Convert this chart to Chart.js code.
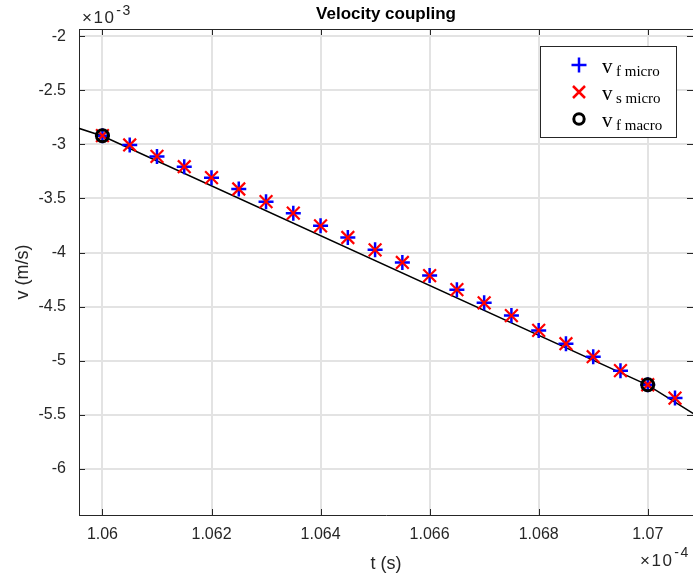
<!DOCTYPE html>
<html>
<head>
<meta charset="utf-8">
<script src="https://cdn.jsdelivr.net/npm/chart.js@4.4.1/dist/chart.umd.min.js"></script>
<style>
html,body{margin:0;padding:0;background:#fff;overflow:hidden}
#wrap{width:693px;height:574px;position:relative}
</style>
</head>
<body>
<div id="wrap"><canvas id="c" width="693" height="574"></canvas></div>
<script>
// ---- data (t in units of 1e-4 s, v in units of 1e-3 m/s) ----
const microTime = [1.0600,1.0605,1.0610,1.0615,1.0620,1.0625,1.0630,1.0635,1.0640,1.0645,1.0650,
                   1.0655,1.0660,1.0665,1.0670,1.0675,1.0680,1.0685,1.0690,1.0695,1.0700,1.0705];
const vfMicro = [-2.920,-3.006,-3.112,-3.207,-3.308,-3.413,-3.530,-3.636,-3.753,-3.861,-3.975,
                 -4.092,-4.213,-4.343,-4.465,-4.583,-4.720,-4.843,-4.963,-5.092,-5.222,-5.345];
const vsMicro = [-2.920,-3.006,-3.112,-3.207,-3.308,-3.413,-3.530,-3.636,-3.753,-3.861,-3.975,
                 -4.092,-4.213,-4.343,-4.465,-4.583,-4.720,-4.843,-4.963,-5.092,-5.222,-5.345];
const macroTime = [1.06, 1.07];
const vfMacro = [-2.920, -5.222];
const lineTime = [1.05, 1.06, 1.07, 1.08];
const lineVelocity = [-1.29, -2.923, -5.225, -8.385];

const xTickValues = [1.060, 1.062, 1.064, 1.066, 1.068, 1.070];
const yTickValues = [-6, -5.5, -5, -4.5, -4, -3.5, -3, -2.5, -2];
const xLimits = [1.05957, 1.07083];
const yLimits = [-6.426, -1.934];
const xExponent = '-4';
const yExponent = '-3';
const titleText = 'Velocity coupling';
const xTitleText = 't (s)';
const yTitleText = 'v (m/s)';
const legendMain = ['v', 'v', 'v'];
const legendSub = ['f micro', 's micro', 'f macro'];

// ---- styling ----
const SANS = '"Liberation Sans", Arial, Helvetica, sans-serif';
const SERIF = '"Liberation Serif", "Times New Roman", serif';
const AXIS_COLOR = '#262626';
const GRID_COLOR = '#e3e3e3';
const BLUE = '#0000ff', RED = '#ff0000', BLACK = '#000000';

function pts(xs, ys) { return xs.map((x, i) => ({ x: x, y: ys[i] })); }

const decor = {
  id: 'decor',
  afterDraw(chart) {
    const ctx = chart.ctx;
    const a = chart.chartArea;
    const xs = chart.scales.x, ys = chart.scales.y;
    ctx.save();
    // top border
    ctx.strokeStyle = AXIS_COLOR;
    ctx.lineWidth = 1;
    ctx.beginPath();
    ctx.moveTo(a.left, Math.round(a.top) + 0.5);
    ctx.lineTo(a.right, Math.round(a.top) + 0.5);
    ctx.stroke();
    // inward ticks
    const TL = 6;
    ctx.beginPath();
    xTickValues.forEach(v => {
      const px = Math.round(xs.getPixelForValue(v)) + 0.5;
      ctx.moveTo(px, a.bottom); ctx.lineTo(px, a.bottom - TL);
      ctx.moveTo(px, a.top); ctx.lineTo(px, a.top + TL);
    });
    yTickValues.forEach(v => {
      const py = Math.round(ys.getPixelForValue(v)) + 0.5;
      ctx.moveTo(a.left, py); ctx.lineTo(a.left + TL, py);
      ctx.moveTo(a.right, py); ctx.lineTo(a.right - TL, py);
    });
    ctx.stroke();

    // title
    ctx.fillStyle = '#000';
    ctx.font = 'bold 17px ' + SANS;
    ctx.textAlign = 'center';
    ctx.textBaseline = 'alphabetic';
    ctx.fillText(titleText, (a.left + a.right) / 2, 19);

    // axis titles
    ctx.fillStyle = AXIS_COLOR;
    ctx.font = '18px ' + SANS;
    ctx.fillText(xTitleText, (a.left + a.right) / 2, 569);
    ctx.save();
    ctx.translate(28, (a.top + a.bottom) / 2);
    ctx.rotate(-Math.PI / 2);
    ctx.fillText(yTitleText, 0, 0);
    ctx.restore();

    // exponents
    ctx.textAlign = 'left';
    ctx.save();
    if ('letterSpacing' in ctx) ctx.letterSpacing = '1.5px';
    ctx.font = '17px ' + SANS;
    ctx.fillText('\u00d710', 82, 23);
    let w = ctx.measureText('\u00d710').width;
    ctx.font = '14px ' + SANS;
    ctx.fillText(yExponent, 82 + w + 1, 15);
    ctx.font = '17px ' + SANS;
    ctx.fillText('\u00d710', 640, 566);
    w = ctx.measureText('\u00d710').width;
    ctx.font = '14px ' + SANS;
    ctx.fillText(xExponent, 640 + w + 1, 557);
    ctx.restore();

    // legend
    const L = 540.5, T = 46.5, R = 676.5, B = 137.5;
    ctx.fillStyle = '#fff';
    ctx.fillRect(L, T, R - L, B - T);
    ctx.strokeStyle = AXIS_COLOR;
    ctx.lineWidth = 1;
    ctx.strokeRect(L, T, R - L, B - T);
    const rows = [65, 92, 119];
    const mx = 579;
    // plus
    ctx.strokeStyle = BLUE; ctx.lineWidth = 2.5;
    ctx.beginPath();
    ctx.moveTo(mx - 7.5, rows[0]); ctx.lineTo(mx + 7.5, rows[0]);
    ctx.moveTo(mx, rows[0] - 7.5); ctx.lineTo(mx, rows[0] + 7.5);
    ctx.stroke();
    // cross
    ctx.strokeStyle = RED;
    ctx.beginPath();
    ctx.moveTo(mx - 6, rows[1] - 6); ctx.lineTo(mx + 6, rows[1] + 6);
    ctx.moveTo(mx + 6, rows[1] - 6); ctx.lineTo(mx - 6, rows[1] + 6);
    ctx.stroke();
    // circle
    ctx.strokeStyle = BLACK; ctx.lineWidth = 3;
    ctx.beginPath();
    ctx.arc(mx, rows[2], 5.2, 0, Math.PI * 2);
    ctx.stroke();
    // texts
    ctx.fillStyle = '#000';
    for (let i = 0; i < 3; i++) {
      ctx.font = '21px ' + SERIF;
      ctx.fillText(legendMain[i], 602, rows[i] + 8);
      ctx.font = '15px ' + SERIF;
      ctx.fillText(legendSub[i], 616, rows[i] + 11);
    }
    ctx.restore();
  }
};

const ctx = document.getElementById('c').getContext('2d');
new Chart(ctx, {
  type: 'scatter',
  data: {
    datasets: [
      { label: 'vf macro', data: pts(macroTime, vfMacro), order: 1,
        pointStyle: 'circle', pointRadius: 6, pointBorderWidth: 3,
        pointBorderColor: BLACK, pointBackgroundColor: 'rgba(0,0,0,0)', showLine: false },
      { label: 'vs micro', data: pts(microTime, vsMicro), order: 2,
        pointStyle: 'crossRot', pointRadius: 9, pointBorderWidth: 2.2,
        pointBorderColor: RED, pointBackgroundColor: RED, showLine: false },
      { label: 'vf micro', data: pts(microTime, vfMicro), order: 3,
        pointStyle: 'cross', pointRadius: 7.5, pointBorderWidth: 2.5,
        pointBorderColor: BLUE, pointBackgroundColor: BLUE, showLine: false },
      { label: 'macro line', data: pts(lineTime, lineVelocity), order: 4,
        showLine: true, borderColor: BLACK, borderWidth: 1.5, pointRadius: 0,
        fill: false, tension: 0, clip: 0 }
    ]
  },
  options: {
    responsive: false,
    animation: false,
    devicePixelRatio: 1,
    events: [],
    layout: { autoPadding: false, padding: { top: 29, left: 0, right: 0, bottom: 0 } },
    plugins: { legend: { display: false }, title: { display: false }, tooltip: { enabled: false } },
    scales: {
      x: {
        type: 'linear', position: 'bottom',
        min: xLimits[0], max: xLimits[1],
        afterBuildTicks: s => { s.ticks = xTickValues.map(v => ({ value: v })); },
        afterFit: s => { s.height = 59; s.paddingLeft = 0; s.paddingRight = 0; },
        grid: { color: GRID_COLOR, lineWidth: 2, drawTicks: false },
        border: { display: true, color: AXIS_COLOR, width: 1 },
        ticks: {
          autoSkip: false, maxRotation: 0, minRotation: 0, padding: 10,
          color: AXIS_COLOR, font: { family: SANS, size: 16 },
          callback: v => String(parseFloat(Number(v).toFixed(3)))
        }
      },
      y: {
        type: 'linear', position: 'left',
        min: yLimits[0], max: yLimits[1],
        afterBuildTicks: s => { s.ticks = yTickValues.map(v => ({ value: v })); },
        afterFit: s => { s.width = 79; s.paddingTop = 0; s.paddingBottom = 0; },
        grid: { color: GRID_COLOR, lineWidth: 2, drawTicks: false },
        border: { display: true, color: AXIS_COLOR, width: 1 },
        ticks: {
          padding: 13, color: AXIS_COLOR, font: { family: SANS, size: 16 },
          callback: v => String(parseFloat(Number(v).toFixed(2)))
        }
      }
    }
  },
  plugins: [decor]
});
</script>
</body>
</html>
